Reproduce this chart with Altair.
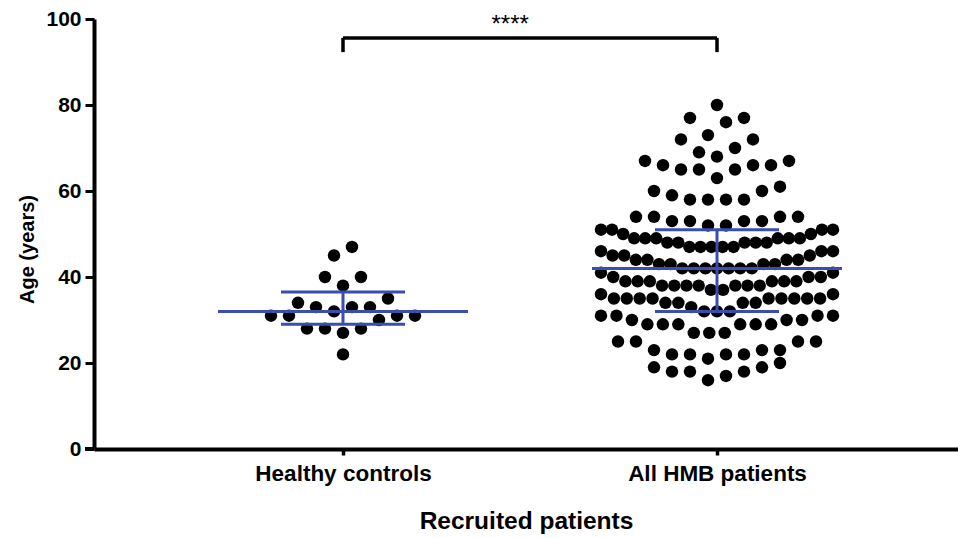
import altair as alt
import numpy as np
import pandas as pd

# ---------------- data ----------------
group_names = ["Healthy controls", "All HMB patients"]
group_pos = [1, 2]

healthy_ages = [22, 27, 28, 28, 28, 30, 31, 31, 31, 31, 32, 33, 33, 33, 34, 35,
                38, 40, 40, 45, 47]

hmb_ages = [16, 17, 18, 18, 18, 19, 19, 20,
            21, 22, 22, 22, 22, 23, 23, 23, 25, 25, 25, 25,
            27, 27, 27, 29, 29, 29, 29, 29, 29, 30, 30, 30, 31, 31, 31, 31,
            32, 32, 32, 33, 34, 34, 34, 34, 35, 35, 35, 35, 35, 35, 35, 35, 35, 36, 36,
            37, 37, 38, 38, 38, 38, 38, 38, 38, 39, 39, 39, 39, 39, 39, 40, 40, 40, 41, 41,
            42, 42, 42, 42, 42, 42, 42, 43, 43, 43, 43, 44, 44, 44, 44, 45, 45, 45, 46, 46, 46,
            47, 47, 47, 47, 47, 48, 48, 48, 48, 48, 49, 49, 49, 49, 49, 49, 50, 50, 51, 51, 51, 51,
            52, 52, 53, 53, 53, 53, 54, 54, 54, 54,
            58, 58, 58, 58, 59, 60, 60, 61,
            63, 65, 65, 65, 66, 66, 66, 67, 67,
            68, 69, 70, 72, 72,
            73, 76, 77, 77,
            80]

y_ticks = [0, 20, 40, 60, 80, 100]
sig_label = "****"
sig_y = 95.6        # bracket height (years)
sig_drop = 92.3     # bracket tick ends (years)
sig_text_pos = [1.447, 97.0]

# ---------------- layout constants ----------------
PX = 374.0                      # pixels per x unit (distance between groups)
X0 = 1 - 249 / PX
X_DOMAIN = [X0, X0 + 864 / PX]
ROW_SPAN = 5                    # Prism-like row binning width (years)
S_MAX = 18.0 / PX               # max horizontal spacing between dots
W_MAX = 232.0 / PX              # max row width
MED_HALF = 125.0 / PX
Q_HALF = 62.0 / PX
BLUE = "#3a4db0"
FONT = "Liberation Sans"


def swarm(ages, center):
    vals = sorted(ages)
    rows, cur, start = [], [], None
    for v in vals:
        if start is None or v >= start + ROW_SPAN:
            if cur:
                rows.append(cur)
            cur, start = [v], v
        else:
            cur.append(v)
    rows.append(cur)
    out = []
    for row in rows:
        n = len(row)
        s = S_MAX if n == 1 else min(S_MAX, W_MAX / (n - 1))
        slots = [(i - (n - 1) / 2) * s for i in range(n)]
        order = sorted(range(n), key=lambda i: (abs(slots[i]), slots[i]))
        for v, i in zip(row, order):
            out.append((center + slots[i], v))
    return out


pts = []
stats = []
lines = []
for name, pos, ages in zip(group_names, group_pos, [healthy_ages, hmb_ages]):
    for x, v in swarm(ages, pos):
        pts.append({"x": x, "age": v, "group": name})
    q1, med, q3 = np.percentile(ages, [25, 50, 75], method="weibull")
    stats.append({"pos": pos, "q1": q1, "q3": q3})
    lines.append({"xl": pos - MED_HALF, "xr": pos + MED_HALF, "y": med})
    lines.append({"xl": pos - Q_HALF, "xr": pos + Q_HALF, "y": q1})
    lines.append({"xl": pos - Q_HALF, "xr": pos + Q_HALF, "y": q3})

pts_df = pd.DataFrame(pts)
stats_df = pd.DataFrame(stats)
lines_df = pd.DataFrame(lines)

bracket_df = pd.DataFrame([
    {"x": group_pos[0], "x2": group_pos[1], "y": sig_y, "y2": sig_y},
    {"x": group_pos[0], "x2": group_pos[0], "y": sig_drop, "y2": sig_y},
    {"x": group_pos[1], "x2": group_pos[1], "y": sig_drop, "y2": sig_y},
])
text_df = pd.DataFrame([{"x": sig_text_pos[0], "y": sig_text_pos[1], "t": sig_label}])

xscale = alt.Scale(domain=X_DOMAIN, nice=False, zero=False)
yscale = alt.Scale(domain=[0, 100], nice=False, zero=True)

label_expr = "datum.value == 1 ? '%s' : '%s'" % (group_names[0], group_names[1])

points = alt.Chart(pts_df).mark_circle(size=155, color="black", opacity=1).encode(
    x=alt.X("x:Q", scale=xscale,
            axis=alt.Axis(title="Recruited patients", values=group_pos, labelExpr=label_expr,
                          grid=False, tickSize=6, tickWidth=3.5, tickColor="black",
                          domainWidth=4, domainColor="black",
                          labelFontSize=22.5, labelPadding=7, labelColor="black",
                          labelFont=FONT, labelFontWeight="bold",
                          titleFont=FONT, titleFontWeight="bold", titleFontSize=24.5,
                          titleColor="black", titlePadding=25)),
    y=alt.Y("age:Q", scale=yscale,
            axis=alt.Axis(title="Age (years)", values=y_ticks, grid=False,
                          tickSize=9, tickWidth=3, tickColor="black",
                          domainWidth=4, domainColor="black",
                          labelFontSize=21, labelPadding=4, labelColor="black",
                          labelFont=FONT, labelFontWeight="bold",
                          titleFont=FONT, titleFontWeight="bold", titleFontSize=20,
                          titleColor="black", titlePadding=8, titleY=230)),
)

hlines = alt.Chart(lines_df).mark_rule(color=BLUE, strokeWidth=3).encode(
    x=alt.X("xl:Q", scale=xscale), x2="xr:Q", y=alt.Y("y:Q", scale=yscale)
)
vline = alt.Chart(stats_df).mark_rule(color=BLUE, strokeWidth=3).encode(
    x=alt.X("pos:Q", scale=xscale), y=alt.Y("q1:Q", scale=yscale), y2="q3:Q"
)
bracket = alt.Chart(bracket_df).mark_rule(color="black", strokeWidth=3.5).encode(
    x=alt.X("x:Q", scale=xscale), x2="x2:Q", y=alt.Y("y:Q", scale=yscale), y2="y2:Q"
)
stars = alt.Chart(text_df).mark_text(fontSize=24, font=FONT, color="black",
                                     baseline="alphabetic", align="center").encode(
    x=alt.X("x:Q", scale=xscale), y=alt.Y("y:Q", scale=yscale), text="t:N"
)
axis_ext = alt.Chart(text_df).mark_rule(color="black", strokeWidth=4).encode(
    x=alt.value(-9), x2=alt.value(0), y=alt.value(430)
)

chart = alt.layer(points, hlines, vline, bracket, stars, axis_ext).properties(
    width=864, height=430,
    padding={"left": 94, "top": 19, "right": 0, "bottom": 89},
    autosize=alt.AutoSizeParams(type="none"),
    background="white",
).configure_view(stroke="transparent")

chart.save("out.html", embed_options={"renderer": "svg", "actions": False})
